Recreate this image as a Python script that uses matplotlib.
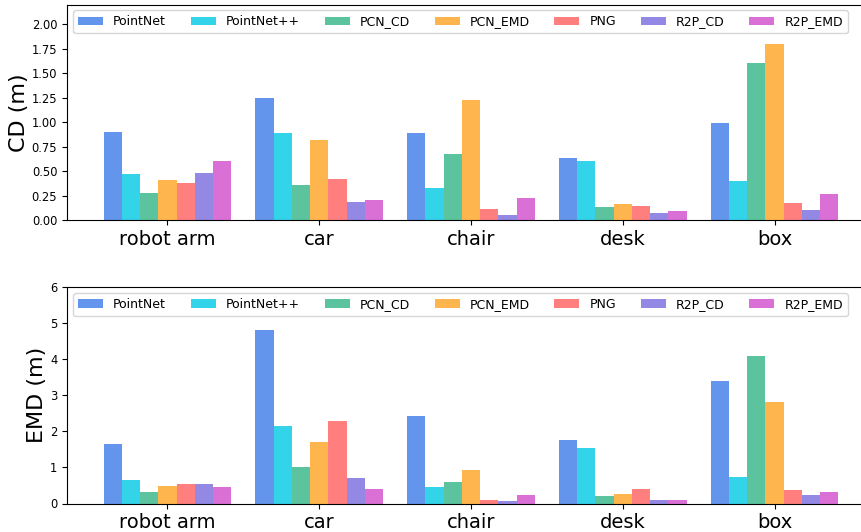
import matplotlib
matplotlib.use("Agg")
import matplotlib.pyplot as plt
import numpy as np

categories = ["robot arm", "car", "chair", "desk", "box"]
methods = ["PointNet", "PointNet++", "PCN_CD", "PCN_EMD", "PNG", "R2P_CD", "R2P_EMD"]
colors = ["#6495ED", "#33D3EA", "#5BC49F", "#FFB54D", "#FF7F7F", "#9388E3", "#DA70D6"]

cd_pointnet = [0.90, 1.245, 0.89, 0.63, 0.99]
cd_pointnetpp = [0.47, 0.89, 0.33, 0.60, 0.40]
cd_pcn_cd = [0.275, 0.36, 0.67, 0.13, 1.60]
cd_pcn_emd = [0.41, 0.82, 1.22, 0.16, 1.80]
cd_png = [0.38, 0.42, 0.11, 0.14, 0.17]
cd_r2p_cd = [0.48, 0.18, 0.05, 0.07, 0.10]
cd_r2p_emd = [0.60, 0.20, 0.22, 0.09, 0.27]

emd_pointnet = [1.65, 4.82, 2.43, 1.76, 3.40]
emd_pointnetpp = [0.65, 2.15, 0.45, 1.54, 0.73]
emd_pcn_cd = [0.31, 1.01, 0.59, 0.20, 4.10]
emd_pcn_emd = [0.48, 1.70, 0.93, 0.26, 2.81]
emd_png = [0.54, 2.29, 0.09, 0.40, 0.37]
emd_r2p_cd = [0.54, 0.70, 0.06, 0.09, 0.23]
emd_r2p_emd = [0.45, 0.40, 0.23, 0.09, 0.31]

cd_series = [cd_pointnet, cd_pointnetpp, cd_pcn_cd, cd_pcn_emd, cd_png, cd_r2p_cd, cd_r2p_emd]
emd_series = [emd_pointnet, emd_pointnetpp, emd_pcn_cd, emd_pcn_emd, emd_png, emd_r2p_cd, emd_r2p_emd]

W, H = 862, 532
fig = plt.figure(figsize=(W / 100, H / 100), dpi=100)

left = 67 / W
right = 875 / W
ax1 = fig.add_axes([left, 1 - 220 / H, right - left, (220 - 4.5) / H])
ax2 = fig.add_axes([left, 1 - 503.5 / H, right - left, (503.5 - 287) / H])

x = np.arange(len(categories))
width = 0.12

def draw(ax, series, ylabel, ylim, yticks, fmt):
    for i, (m, vals, c) in enumerate(zip(methods, series, colors)):
        ax.bar(x + (i - 3) * width, vals, width, label=m, color=c)
    ax.set_xticks(x)
    ax.set_xticklabels(categories, fontsize=14)
    ax.set_ylim(*ylim)
    ax.set_yticks(yticks)
    ax.set_yticklabels([fmt.format(v) for v in yticks], fontsize=8.3)
    ax.set_ylabel(ylabel, fontsize=16, labelpad=2)
    ax.legend(loc="upper left", ncol=7, fontsize=9, mode="expand",
              bbox_to_anchor=(6 / (875 - 67), 0, (848 - 73) / (875 - 67), 1 - 6 / 216),
              borderaxespad=0.0, handlelength=2.0)

draw(ax1, cd_series, "CD (m)", (0, 2.2), np.arange(0, 2.01, 0.25), "{:.2f}")
draw(ax2, emd_series, "EMD (m)", (0, 6), np.arange(0, 7, 1), "{:.0f}")

fig.savefig("out.png", dpi=100)
